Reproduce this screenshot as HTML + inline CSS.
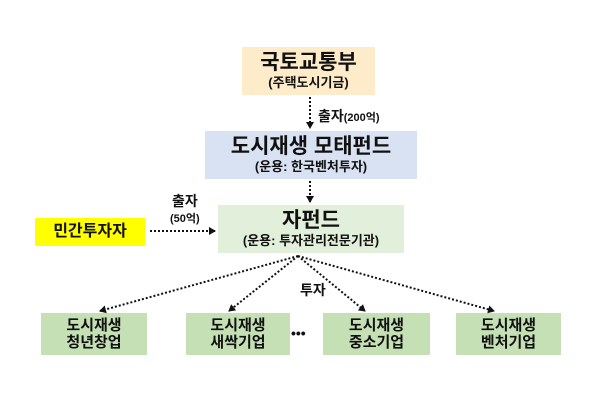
<!DOCTYPE html>
<html><head><meta charset="utf-8"><style>
body{margin:0;width:605px;height:403px;background:#fff;position:relative;overflow:hidden;font-family:"Liberation Sans","Noto Sans CJK KR",sans-serif;font-weight:bold;color:#111}
.b{position:absolute;display:flex;flex-direction:column;align-items:center;justify-content:center;text-align:center;line-height:1.15}
.t{position:absolute;white-space:nowrap}
</style></head><body>
<div class="b" style="left:242px;top:47px;width:133px;height:48px;background:#fdebc9"><div style="font-size:21px">국토교통부</div><div style="font-size:13px">(주택도시기금)</div></div>
<div class="b" style="left:205px;top:131px;width:212px;height:48px;background:#d9e2f3"><div style="font-size:21px">도시재생 모태펀드</div><div style="font-size:13px">(운용: 한국벤처투자)</div></div>
<div class="b" style="left:218px;top:205px;width:186px;height:48px;background:#e2efda"><div style="font-size:21px">자펀드</div><div style="font-size:13px">(운용: 투자관리전문기관)</div></div>
<div class="b" style="left:35px;top:218px;width:110px;height:28px;background:#ffff00"><div style="font-size:16px">민간투자자</div></div>
<div class="b" style="left:41px;top:313px;width:106px;height:42px;background:#c5e0b4;font-size:15px"><div>도시재생</div><div>청년창업</div></div>
<div class="b" style="left:186px;top:313px;width:104px;height:42px;background:#c5e0b4;font-size:15px"><div>도시재생</div><div>새싹기업</div></div>
<div class="b" style="left:323px;top:313px;width:107px;height:42px;background:#c5e0b4;font-size:15px"><div>도시재생</div><div>중소기업</div></div>
<div class="b" style="left:456px;top:313px;width:105px;height:42px;background:#c5e0b4;font-size:15px"><div>도시재생</div><div>벤처기업</div></div>
<div class="t" style="left:318px;top:106px;font-size:14px">출자<span style="font-size:11px">(200억)</span></div>
<div class="t" style="left:172px;top:191px;font-size:14px">출자</div>
<div class="t" style="left:170px;top:210px;font-size:11px">(50억)</div>
<div class="t" style="left:300px;top:280px;font-size:14px">투자</div>
<div class="t" style="left:291px;top:325px;font-size:14px">•••</div>
<svg width="605" height="403" style="position:absolute;left:0;top:0">
<defs><marker id="a" markerWidth="8" markerHeight="8" refX="6" refY="4" orient="auto" markerUnits="userSpaceOnUse"><path d="M0,0L7,4L0,8z" fill="#111"/></marker></defs>
<g stroke="#111" stroke-width="2" stroke-dasharray="2,2" fill="none" marker-end="url(#a)">
<line x1="310" y1="97" x2="310" y2="128"/>
<line x1="310" y1="181" x2="310" y2="202"/>
<line x1="150" y1="231" x2="215" y2="231"/>
<line x1="298" y1="256" x2="100" y2="311"/>
<line x1="298" y1="256" x2="229" y2="311"/>
<line x1="298" y1="256" x2="365" y2="311"/>
<line x1="298" y1="256" x2="494" y2="311"/>
</g></svg>
</body></html>
